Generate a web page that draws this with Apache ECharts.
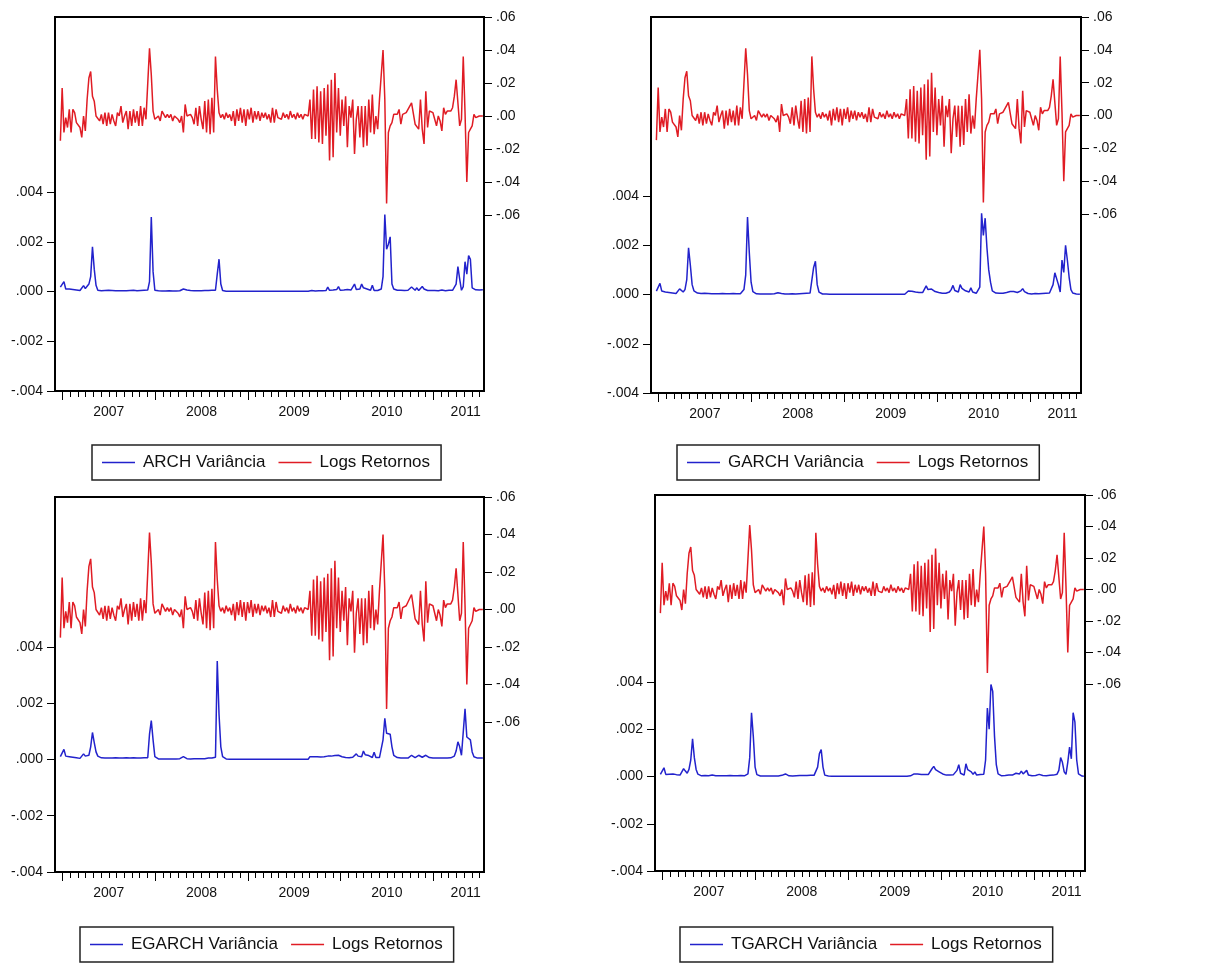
<!DOCTYPE html>
<html>
<head>
<meta charset="utf-8">
<script src="https://cdn.jsdelivr.net/npm/echarts@6/dist/echarts.min.js"></script>
<style>
html, body { margin: 0; padding: 0; background: #fff; }
#chart { width: 1218px; height: 963px; }
</style>
</head>
<body>
<div id="chart"></div>
<script>
// weekly observations, first one in the last days of 2006
const startYear = 2006.978;
const weekStep = 1 / 52;

const logReturns = [
	-0.015, 0.017, -0.010, -0.001, -0.007, 0.004, -0.010, 0.004, 0.002, -0.004,
	-0.003, -0.007, -0.013, 0.000, -0.009, 0.010, 0.023, 0.027, 0.012, 0.009,
	0.000, 0.000, -0.003, 0.001, -0.005, 0.002, -0.006, 0.002, -0.005, 0.001,
	-0.003, -0.006, 0.002, 0.000, 0.006, -0.004, 0.000, 0.003, -0.008, 0.003,
	-0.006, 0.004, -0.004, 0.003, -0.006, 0.006, -0.006, 0.005, -0.002, -0.001,
	0.041, 0.025, 0.003, -0.002, -0.003, 0.000, -0.003, 0.003, 0.002, -0.001,
	0.001, -0.001, 0.001, -0.003, 0.000, 0.001, -0.002, -0.004, 0.000, -0.010,
	0.007, 0.000, 0.001, 0.001, -0.001, -0.005, 0.005, -0.006, 0.006, -0.002,
	-0.008, 0.009, -0.010, 0.010, -0.011, 0.011, -0.010, 0.036, 0.016, 0.002,
	-0.001, 0.001, -0.002, 0.002, -0.001, 0.001, -0.003, 0.003, -0.006, 0.004,
	-0.003, 0.005, -0.004, 0.004, -0.006, 0.004, -0.002, 0.005, -0.004, 0.003,
	-0.002, 0.003, -0.003, 0.002, -0.001, 0.002, -0.002, 0.001, -0.004, 0.005,
	-0.004, 0.004, -0.001, 0.000, -0.002, 0.002, -0.001, 0.001, -0.002, 0.003,
	-0.001, 0.001, -0.002, 0.002, -0.001, 0.001, -0.002, 0.001, 0.000, 0.000,
	0.010, -0.014, 0.016, -0.014, 0.018, -0.016, 0.015, -0.017, 0.017, -0.012,
	0.019, -0.027, 0.022, -0.025, 0.026, -0.010, 0.017, -0.012, 0.010, -0.006,
	0.012, -0.019, 0.006, -0.001, 0.010, -0.023, -0.002, 0.006, -0.013, 0.006,
	-0.019, 0.006, -0.018, 0.010, -0.010, 0.013, -0.011, 0.000, -0.008, 0.010,
	0.025, 0.040, 0.010, -0.053, -0.010, -0.006, -0.004, 0.001, 0.002, 0.001,
	0.004, -0.005, 0.001, 0.001, 0.002, 0.003, 0.006, 0.008, 0.007, -0.005,
	-0.004, -0.008, 0.010, -0.008, -0.017, 0.015, -0.007, 0.003, 0.002, 0.002,
	-0.002, -0.006, 0.000, -0.003, -0.009, 0.005, 0.001, 0.003, 0.002, 0.003,
	0.005, 0.012, 0.022, 0.008, -0.006, -0.002, 0.036, 0.002, -0.040, -0.010,
	-0.008, -0.006, 0.001, -0.001, -0.001, 0.000, -0.001, 0.000
];

const archVariance = [
	0.00018, 0.0001, 0.0004, 0.0001, 0.00012, 0.0001, 0.00005, 0.00008, 0.00004, 0.00006,
	0.00005, 0.00004, 0.00005, 0.00024, 0.00012, 0.0001, 0.0003, 0.0006, 0.0018, 0.0009,
	0.00025, 0.00005, 0.00004, 0.00003, 0.00006, 0.00004, 0.00003, 0.00005, 0.00003, 0.00004,
	0.00006, 0.00003, 0.00004, 0.00003, 0.00005, 0.00003, 0.00004, 0.00003, 0.00006, 0.00004,
	0.00003, 0.00005, 0.00004, 0.00003, 0.00005, 0.00004, 0.00003, 0.00005, 0.00004, 0.00006,
	0.0004, 0.003, 0.0008, 0.00005, 0.00005, 0.00003, 0.00002, 0.00002, 0.00003, 0.00002,
	0.00002, 0.00003, 0.00002, 0.00002, 0.00003, 0.00002, 0.00002, 0.00003, 0.00008, 0.0001,
	0.00005, 0.00006, 0.00003, 0.00004, 0.00002, 0.00003, 0.00004, 0.00003, 0.00004, 0.00003,
	0.00005, 0.00004, 0.00005, 0.00004, 0.00006, 0.00005, 0.00006, 0.00005, 0.0007, 0.0013,
	0.0003, 0.00004, 0.00002, 0.00001, 0.00001, 0.00001, 0.00001, 0.00001, 0.00001, 0.00001,
	0.00001, 0.00001, 0.00001, 0.00001, 0.00001, 0.00001, 0.00001, 0.00001, 0.00001, 0.00001,
	0.00001, 0.00001, 0.00001, 0.00001, 0.00001, 0.00001, 0.00001, 0.00001, 0.00001, 0.00001,
	0.00001, 0.00001, 0.00001, 0.00001, 0.00001, 0.00001, 0.00001, 0.00001, 0.00001, 0.00001,
	0.00001, 0.00001, 0.00001, 0.00001, 0.00001, 0.00001, 0.00001, 0.00001, 0.00001, 0.00001,
	0.00002, 0.00004, 0.00003, 0.00002, 0.00004, 0.00003, 0.00002, 0.00003, 0.00005, 0.00004,
	0.00018, 0.00005, 0.00004, 0.00006, 0.00004, 0.00008, 0.0002, 0.00005, 0.00004, 0.00006,
	0.00005, 0.00008, 0.00004, 0.00006, 0.00005, 0.0003, 0.00008, 0.00004, 0.0001, 0.0003,
	0.00015, 0.00018, 0.0001, 0.00012, 0.00005, 0.00025, 0.00004, 0.00006, 0.00004, 0.00005,
	0.0001, 0.0006, 0.0031, 0.0017, 0.0019, 0.0022, 0.0003, 0.0001, 0.00005, 0.00005,
	0.00004, 0.00005, 0.00003, 0.00004, 0.00006, 0.00005, 0.0001, 0.00018, 0.0001, 0.00005,
	0.00015, 0.00004, 0.00005, 0.0002, 0.0001, 0.00018, 0.00004, 0.00005, 0.00004, 0.00003,
	0.00004, 0.00005, 0.00003, 0.00004, 0.00006, 0.00004, 0.00003, 0.00004, 0.00005, 0.00004,
	0.00005, 0.00008, 0.0003, 0.001, 0.0005, 0.00005, 0.0002, 0.0012, 0.0007, 0.00145,
	0.0013, 0.00015, 0.00008, 0.00007, 0.00007, 0.00006, 0.00007, 0.00007
];

const garchVariance = [
	0.00014, 0.00012, 0.00045, 0.00014, 0.0001, 0.0001, 0.00009, 0.00008, 0.00007, 0.00006,
	0.00005, 0.00004, 0.00012, 0.00023, 0.00015, 0.0001, 0.0002, 0.0006, 0.0019, 0.0012,
	0.0004, 0.00015, 0.00008, 0.00006, 0.00005, 0.00004, 0.00004, 0.00005, 0.00003, 0.00004,
	0.00004, 0.00003, 0.00004, 0.00003, 0.00004, 0.00003, 0.00003, 0.00004, 0.00003, 0.00003,
	0.00004, 0.00003, 0.00003, 0.00004, 0.00003, 0.00003, 0.00004, 0.00003, 0.00004, 0.0002,
	0.0008, 0.00315, 0.0017, 0.0005, 0.00012, 0.00005, 0.00003, 0.00002, 0.00002, 0.00002,
	0.00002, 0.00002, 0.00002, 0.00002, 0.00002, 0.00003, 0.00003, 0.00006, 0.00007, 0.00005,
	0.00004, 0.00003, 0.00002, 0.00002, 0.00002, 0.00002, 0.00003, 0.00003, 0.00002, 0.00003,
	0.00003, 0.00004, 0.00004, 0.00005, 0.00005, 0.00006, 0.00006, 0.00007, 0.0011, 0.00135,
	0.0004, 0.0001, 0.00004, 0.00002, 0.00002, 0.00002, 0.00002, 0.00001, 0.00001, 0.00001,
	0.00001, 0.00001, 0.00001, 0.00001, 0.00001, 0.00001, 0.00001, 0.00001, 0.00001, 0.00001,
	0.00001, 0.00001, 0.00001, 0.00001, 0.00001, 0.00001, 0.00001, 0.00001, 0.00001, 0.00001,
	0.00001, 0.00001, 0.00001, 0.00001, 0.00001, 0.00001, 0.00001, 0.00001, 0.00001, 0.00001,
	0.00001, 0.00001, 0.00001, 0.00001, 0.00001, 0.00001, 0.00001, 0.00001, 0.00001, 0.00001,
	0.00005, 0.00014, 0.00012, 0.00013, 0.00012, 0.0001, 0.00006, 0.00008, 0.00014, 0.00008,
	0.00012, 0.00035, 0.0002, 0.00025, 0.00022, 0.00018, 0.00012, 0.0001, 0.00008, 0.00006,
	0.00005, 0.00006, 0.00005, 0.00008, 0.0001, 0.0002, 0.00037, 0.00016, 0.00008, 0.0001,
	0.0004, 0.00025, 0.0003, 0.00015, 0.00012, 0.0001, 0.00027, 0.0001, 0.00005, 0.00005,
	0.00005, 0.0003, 0.0033, 0.0024, 0.0031, 0.0019, 0.001, 0.0005, 0.00015, 0.00008,
	0.00006, 0.00005, 0.00005, 0.00004, 0.00005, 0.00004, 0.00008, 0.0001, 0.00012, 0.00019,
	0.00012, 0.00006, 0.00008, 0.0001, 0.00015, 0.00024, 0.00012, 0.00007, 0.00004, 0.00003,
	0.00002, 0.00003, 0.00004, 0.00003, 0.00003, 0.00004, 0.00004, 0.00004, 0.00005, 0.00005,
	0.00006, 0.0001, 0.0004, 0.00088, 0.0008, 0.0004, 0.0001, 0.0014, 0.0009, 0.002,
	0.0014, 0.0007, 0.0002, 0.00006, 0.00003, 0.00002, 0.00001, 0.00001
];

const egarchVariance = [
	0.0001, 0.00012, 0.00036, 0.00012, 0.0001, 0.0001, 0.00009, 0.00008, 0.00007, 0.00006,
	0.00005, 0.00004, 0.00005, 0.0002, 0.00012, 0.00007, 0.00015, 0.00045, 0.00096, 0.0006,
	0.00027, 0.00012, 0.00007, 0.00006, 0.00006, 0.00005, 0.00006, 0.00005, 0.00006, 0.00005,
	0.00005, 0.00006, 0.00005, 0.00005, 0.00006, 0.00005, 0.00005, 0.00006, 0.00005, 0.00005,
	0.00005, 0.00006, 0.00005, 0.00005, 0.00006, 0.00005, 0.00005, 0.00006, 0.00005, 0.00006,
	0.0009, 0.00138, 0.0007, 0.0001, 0.00003, 0.00002, 0.00002, 0.00002, 0.00002, 0.00002,
	0.00002, 0.00002, 0.00002, 0.00002, 0.00002, 0.00002, 0.00002, 0.00003, 0.00007, 0.0001,
	0.00005, 0.00003, 0.00002, 0.00002, 0.00002, 0.00003, 0.00002, 0.00003, 0.00002, 0.00003,
	0.00004, 0.00003, 0.00004, 0.00005, 0.00004, 0.00005, 0.00006, 0.00008, 0.0035, 0.0016,
	0.00045, 0.0001, 0.00003, 0.00002, 0.00001, 0.00001, 0.00001, 0.00001, 0.00001, 0.00001,
	0.00001, 0.00001, 0.00001, 0.00001, 0.00001, 0.00001, 0.00001, 0.00001, 0.00001, 0.00001,
	0.00001, 0.00001, 0.00001, 0.00001, 0.00001, 0.00001, 0.00001, 0.00001, 0.00001, 0.00001,
	0.00001, 0.00001, 0.00001, 0.00001, 0.00001, 0.00001, 0.00001, 0.00001, 0.00001, 0.00001,
	0.00001, 0.00001, 0.00001, 0.00001, 0.00001, 0.00001, 0.00001, 0.00001, 0.00001, 0.00001,
	0.0001, 0.00012, 0.0001, 0.00008, 0.0001, 0.00012, 0.00009, 0.00007, 0.0001, 0.00011,
	0.00012, 0.00017, 0.00012, 0.00013, 0.00014, 0.00014, 0.00015, 0.00012, 0.0001, 0.00008,
	0.00007, 0.00007, 0.00006, 0.00007, 0.00008, 0.0001, 0.0002, 0.00012, 0.00007, 0.0001,
	0.0003, 0.00017, 0.00015, 0.00014, 0.00008, 0.00007, 0.00026, 0.00007, 0.00007, 0.00007,
	0.0001, 0.0007, 0.00146, 0.00093, 0.00093, 0.0009, 0.00045, 0.00015, 0.00008, 0.00007,
	0.00006, 0.00005, 0.00005, 0.00005, 0.00005, 0.00005, 0.00008, 0.00015, 0.0001, 0.00007,
	0.0001, 0.00015, 0.0001, 0.00008, 0.00015, 0.00015, 0.0001, 0.00007, 0.00006, 0.00005,
	0.00005, 0.00005, 0.00005, 0.00005, 0.00005, 0.00005, 0.00005, 0.00005, 0.00005, 0.00006,
	0.00007, 0.00012, 0.0003, 0.00063, 0.00045, 0.00015, 0.0001, 0.0018, 0.0008, 0.00083,
	0.0007, 0.00027, 0.0001, 0.00007, 0.00005, 0.00005, 0.00005, 0.00005
];

const tgarchVariance = [
	0.00009, 0.00011, 0.00037, 0.00009, 0.00014, 0.0001, 0.00009, 0.00011, 0.0001, 0.00008,
	0.00007, 0.00006, 0.00008, 0.00033, 0.00023, 0.00014, 0.0003, 0.0007, 0.0016, 0.0008,
	0.0003, 0.0001, 0.00005, 0.00003, 0.00003, 0.00004, 0.00009, 0.00003, 0.00003, 0.00006,
	0.00009, 0.00003, 0.00003, 0.00003, 0.00004, 0.00003, 0.00003, 0.00003, 0.00003, 0.00004,
	0.00003, 0.00003, 0.00003, 0.00003, 0.00003, 0.00004, 0.00003, 0.00003, 0.00005, 0.00011,
	0.0008, 0.0027, 0.0017, 0.0004, 0.00008, 0.00003, 0.00002, 0.00002, 0.00002, 0.00002,
	0.00002, 0.00002, 0.00002, 0.00002, 0.00002, 0.00002, 0.00002, 0.00003, 0.00005, 0.00009,
	0.00011, 0.00004, 0.00003, 0.00003, 0.00002, 0.00002, 0.00003, 0.00006, 0.00004, 0.00003,
	0.00004, 0.00005, 0.00004, 0.00006, 0.00005, 0.00006, 0.00005, 0.00008, 0.0004, 0.00097,
	0.00114, 0.0004, 0.00006, 0.00002, 0.00002, 0.00001, 0.00001, 0.00001, 0.00001, 0.00001,
	0.00001, 0.00001, 0.00001, 0.00001, 0.00001, 0.00001, 0.00001, 0.00001, 0.00001, 0.00001,
	0.00001, 0.00001, 0.00001, 0.00001, 0.00001, 0.00001, 0.00001, 0.00001, 0.00001, 0.00001,
	0.00001, 0.00001, 0.00001, 0.00001, 0.00001, 0.00001, 0.00001, 0.00001, 0.00001, 0.00001,
	0.00001, 0.00001, 0.00001, 0.00001, 0.00001, 0.00001, 0.00001, 0.00001, 0.00001, 0.00001,
	0.00003, 0.00008, 0.00011, 0.00014, 0.00011, 0.0001, 0.00009, 0.00007, 0.00009, 0.00011,
	0.00009, 0.00012, 0.00033, 0.00043, 0.00029, 0.00024, 0.0002, 0.00015, 0.00011, 0.00008,
	0.00006, 0.00006, 0.00006, 0.00006, 0.00008, 0.0001, 0.00026, 0.0005, 0.00014, 0.00008,
	0.00006, 0.00054, 0.00029, 0.00037, 0.0002, 0.00009, 0.0002, 0.00006, 0.00007, 0.00009,
	0.00009, 0.0001, 0.0007, 0.0029, 0.002, 0.0039, 0.0036, 0.0017, 0.0005, 0.00011,
	0.00005, 0.00003, 0.00003, 0.00004, 0.00006, 0.00006, 0.00006, 0.00006, 0.00008, 0.00014,
	0.00017, 0.00011, 0.00023, 0.00011, 0.00015, 0.00026, 0.00006, 0.00004, 0.00003, 0.00003,
	0.00004, 0.00006, 0.00009, 0.00006, 0.00004, 0.00003, 0.00003, 0.00004, 0.00005, 0.00005,
	0.00006, 0.00008, 0.0001, 0.00026, 0.0008, 0.0006, 0.0002, 0.00009, 0.0006, 0.00125,
	0.00075, 0.0027, 0.0023, 0.0007, 0.00011, 0.00004, 0.00002, 0.00001
];

const yearTicks = [2007, 2008, 2009, 2010, 2011];
const yearLabelPos = [2007.5, 2008.5, 2009.5, 2010.5, 2011.35];
const varianceTicks = [-0.004, -0.002, 0, 0.002, 0.004];
const returnTicks = [-0.06, -0.04, -0.02, 0, 0.02, 0.04, 0.06];
const returnName = 'Logs Retornos';

const xMin = 2006.92;
const xMax = 2011.548;
const monthTicks = [];
for ( let y = 2007; y <= 2011; y++ ) {
	for ( let m = 1; m < 12; m++ ) {
		if ( y + m / 12 < xMax ) {
			monthTicks.push( y + m / 12 );
		}
	}
}

const panels = [
	{ name: 'ARCH Variância', variance: archVariance, left: 55, top: 17, width: 429, height: 374,
		varMax: 0.01104, retMin: -0.1667, legendLeft: 92, legendTop: 445 },
	{ name: 'GARCH Variância', variance: garchVariance, left: 651, top: 17, width: 430, height: 376,
		varMax: 0.01127, retMin: -0.169, legendLeft: 677, legendTop: 445 },
	{ name: 'EGARCH Variância', variance: egarchVariance, left: 55, top: 497, width: 429, height: 375,
		varMax: 0.009333, retMin: -0.14, legendLeft: 80, legendTop: 927 },
	{ name: 'TGARCH Variância', variance: tgarchVariance, left: 655, top: 495, width: 430, height: 376,
		varMax: 0.01192, retMin: -0.1787, legendLeft: 680, legendTop: 927 }
];

const fontFamily = '"Liberation Sans", Arial, sans-serif';
const blue = '#2222cc';
const red = '#e01c24';
const ink = '#111';

// EViews style: no leading zero, e.g. .004 and -.02
const eviewsFormat = ( digits ) => ( value ) => {
	const text = Math.abs( value ).toFixed( digits ).replace( /^0/, '' );
	return ( value < -1e-9 ? '-' : '' ) + text;
};

const toPoints = ( values ) => values.map( ( v, i ) => [ startYear + i * weekStep, v ] );

const grid = [];
const xAxis = [];
const yAxis = [];
const series = [];
const legend = [];

panels.forEach( ( p, k ) => {
	grid.push( {
		left: p.left, top: p.top, width: p.width, height: p.height,
		show: true, borderColor: '#000', borderWidth: 2, backgroundColor: 'transparent'
	} );
	xAxis.push( {
		type: 'value', gridIndex: k, min: xMin, max: xMax, position: 'bottom',
		axisLine: { show: false, onZero: false },
		splitLine: { show: false },
		axisTick: { customValues: yearTicks, length: 9, lineStyle: { color: '#000', width: 1 } },
		axisLabel: {
			customValues: yearLabelPos,
			formatter: ( v ) => String( Math.floor( v ) ),
			margin: 14, fontSize: 14, color: ink, fontFamily
		}
	} );
	xAxis.push( {
		type: 'value', gridIndex: k, min: xMin, max: xMax, position: 'bottom',
		axisLine: { show: false, onZero: false },
		splitLine: { show: false },
		axisTick: { customValues: monthTicks, length: 6, lineStyle: { color: '#000', width: 1 } },
		axisLabel: { show: false }
	} );
	yAxis.push( {
		type: 'value', gridIndex: k, position: 'left', min: -0.004, max: p.varMax,
		axisLine: { show: false, onZero: false },
		splitLine: { show: false },
		axisTick: { customValues: varianceTicks, length: 8, lineStyle: { color: '#000', width: 1 } },
		axisLabel: {
			customValues: varianceTicks, formatter: eviewsFormat( 3 ),
			margin: 12, fontSize: 14, color: ink, fontFamily
		}
	} );
	yAxis.push( {
		type: 'value', gridIndex: k, position: 'right', min: p.retMin, max: 0.06,
		axisLine: { show: false, onZero: false },
		splitLine: { show: false },
		axisTick: { customValues: returnTicks, length: 8, lineStyle: { color: '#000', width: 1 } },
		axisLabel: {
			customValues: returnTicks, formatter: eviewsFormat( 2 ),
			margin: 12, fontSize: 14, color: ink, fontFamily
		}
	} );
	series.push( {
		name: p.name, type: 'line', xAxisIndex: 2 * k, yAxisIndex: 2 * k,
		data: toPoints( p.variance ), symbol: 'none', showSymbol: false,
		lineStyle: { color: blue, width: 1.5 }, itemStyle: { color: blue }
	} );
	series.push( {
		name: returnName, type: 'line', xAxisIndex: 2 * k, yAxisIndex: 2 * k + 1,
		data: toPoints( logReturns ), symbol: 'none', showSymbol: false,
		lineStyle: { color: red, width: 1.5 }, itemStyle: { color: red }
	} );
	legend.push( {
		data: [ p.name, returnName ],
		left: p.legendLeft, top: p.legendTop,
		orient: 'horizontal', selectedMode: false,
		icon: 'rect', itemWidth: 33, itemHeight: 1.5, itemGap: 13,
		padding: [ 9, 11, 9, 10 ],
		borderColor: '#222', borderWidth: 1.5,
		textStyle: { fontSize: 17, color: ink, fontFamily, padding: [ 0, 0, 0, 3 ] }
	} );
} );

const chart = echarts.init( document.getElementById( 'chart' ) );
chart.setOption( {
	animation: false,
	backgroundColor: '#fff',
	grid, xAxis, yAxis, series, legend
} );
</script>
</body>
</html>
